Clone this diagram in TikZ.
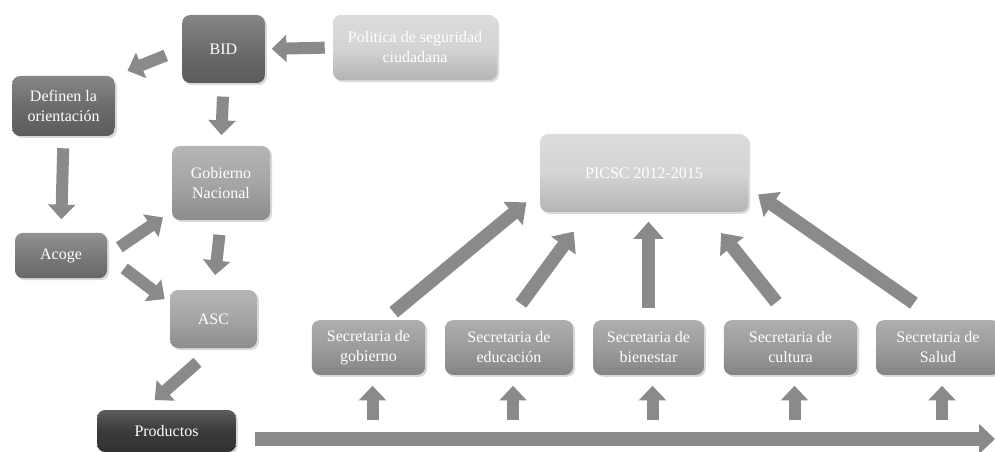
\documentclass[tikz,border=0pt]{standalone}
\usepackage{fontspec}
\setmainfont{Liberation Serif}
\usetikzlibrary{arrows.meta,shadows}

\definecolor{oscuro}{RGB}{108,108,108}
\definecolor{acogec}{RGB}{122,122,122}
\definecolor{medio}{RGB}{165,165,165}
\definecolor{secre}{RGB}{156,156,156}
\definecolor{claro}{RGB}{212,212,212}
\definecolor{negro}{RGB}{58,58,58}
\definecolor{flechagris}{RGB}{138,138,138}

\begin{document}
\begin{tikzpicture}[x=0.75pt,y=-0.75pt,
  caja/.style={rounded corners=6pt, top color=#1!82!white, bottom color=#1!85!black,
    middle color=#1, text=white, align=center, inner sep=2pt,
    font=\fontsize{12}{15}\selectfont,
    drop shadow={shadow xshift=1.5pt,shadow yshift=-1.5pt,opacity=.3}},
  flecha/.style={draw=flechagris, line width=9pt, -{Triangle[length=11pt,width=20pt]}},
  flechag/.style={draw=flechagris, line width=10pt, -{Triangle[length=13pt,width=22pt]}},
  barra/.style={draw=flechagris, line width=11pt, -{Triangle[length=12pt,width=22pt]}}]
\useasboundingbox (0,0) rectangle (995,452);

% left part
\node[caja=oscuro, minimum width=62pt, minimum height=51pt] (bid) at (223.5,49) {BID};
\node[caja=claro, minimum width=123pt, minimum height=49pt] (pol) at (415,47.5) {Politica de seguridad\\ciudadana};
\node[caja=oscuro, minimum width=77pt, minimum height=45pt] (def) at (63.5,106) {Definen la\\orientación};
\node[caja=medio, minimum width=73.5pt, minimum height=55.5pt] (gob) at (221,183) {Gobierno\\Nacional};
\node[caja=acogec, minimum width=69pt, minimum height=34pt] (aco) at (61,255.5) {Acoge};
\node[caja=medio, minimum width=65pt, minimum height=43.5pt] (asc) at (213.5,319) {ASC};
\node[caja=negro, minimum width=104pt, minimum height=31.5pt] (prod) at (166.5,431) {Productos};

\draw[flecha, shorten <=6pt, shorten >=5pt] (pol.west) -- (bid.east);
\draw[flecha, shorten <=13pt, shorten >=10pt] (bid.west) -- (def.north east);
\draw[flecha, shorten <=10pt, shorten >=8pt] (bid.south) -- (gob.north);
\draw[flecha, shorten <=9pt, shorten >=10pt] (def.south) -- (aco.north);
\draw[flecha, shorten <=11pt, shorten >=8pt] (aco.east) -- (gob.210);
\draw[flecha, shorten <=16pt, shorten >=5pt] (aco.east) -- (asc.160);
\draw[flecha, shorten <=11pt, shorten >=11pt] (gob.south) -- (asc.north);
\draw[flecha, shorten <=16pt, shorten >=11pt] (asc.south) -- (prod.137);

%-------------------------------------
% right part
\node[caja=claro, minimum width=156pt, minimum height=58.5pt] (pic) at (644,173) {PICSC 2012-2015};
\node[caja=secre, minimum width=85pt, minimum height=41pt] (sgob) at (368.5,347.5) {Secretaria de\\gobierno};
\node[caja=secre, minimum width=96pt, minimum height=41pt] (sedu) at (509,347.5) {Secretaria de\\educación};
\node[caja=secre, minimum width=83pt, minimum height=41pt] (sbie) at (648.5,347.5) {Secretaria de\\bienestar};
\node[caja=secre, minimum width=100pt, minimum height=41pt] (scul) at (790.5,347.5) {Secretaria de\\cultura};
\node[caja=secre, minimum width=93pt, minimum height=41pt] (ssal) at (938,347.5) {Secretaria de\\Salud};

\coordinate (fin) at (995,439);
\draw[barra, shorten <=14pt] (prod.east |- fin) -- (fin);

\foreach \s in {sgob,sedu,sbie,scul,ssal}
  \draw[flecha, shorten <=14pt, shorten >=8pt] ([xshift=3pt]\s.south |- fin) -- ([xshift=3pt]\s.south);

\draw[flechag, shorten <=9pt, shorten >=13pt] (sgob.60) -- (pic.190);
\draw[flechag, shorten <=15pt, shorten >=18pt] (sedu.north) -- (pic.215);
\draw[flechag, shorten <=9pt, shorten >=7pt] (sbie.north) -- (sbie.north |- pic.south);
\draw[flechag, shorten <=17pt, shorten >=20pt] (scul.north) -- (pic.327);
\draw[flechag, shorten <=22pt, shorten >=9pt] (ssal.north) -- (pic.-8);
\end{tikzpicture}
\end{document}
